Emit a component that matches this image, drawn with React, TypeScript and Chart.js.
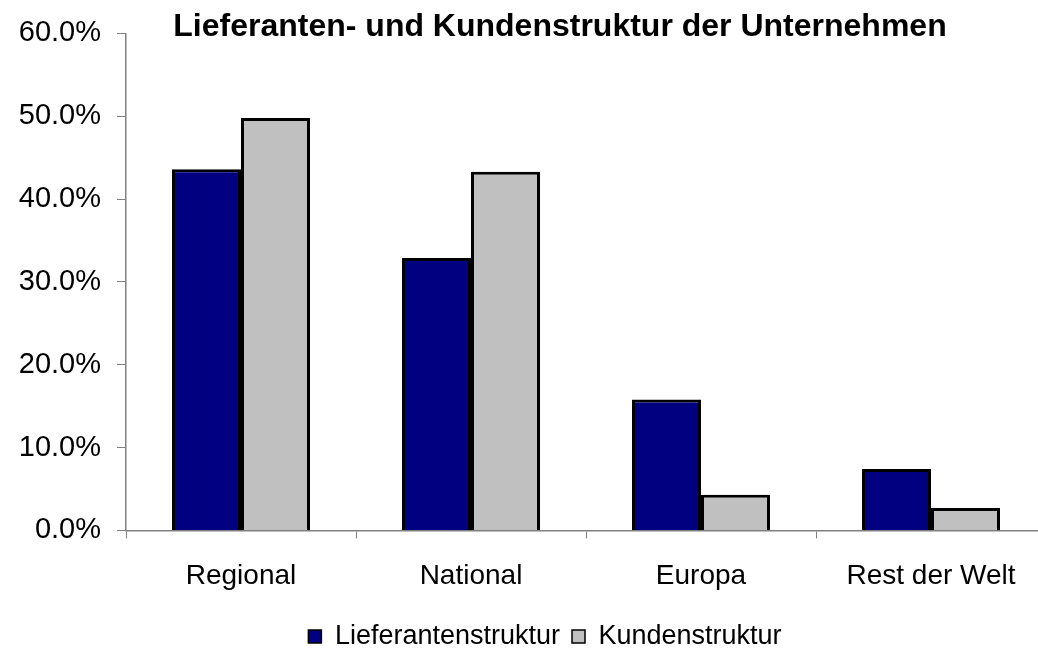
import React, { useEffect, useRef } from "react";
import { Chart, registerables } from "chart.js";

Chart.register(...registerables);

const categories = ["Regional", "National", "Europa", "Rest der Welt"];
const lieferanten = [43.6, 32.9, 15.8, 7.4];
const kunden = [49.8, 43.3, 4.3, 2.7];
const seriesNames = ["Lieferantenstruktur", "Kundenstruktur"];
const chartTitle = "Lieferanten- und Kundenstruktur der Unternehmen";

const FONT = "'Liberation Sans', Arial, sans-serif";

const titlePlugin = {
  id: "customTitle",
  afterDraw(chart: any) {
    const ctx = chart.ctx;
    ctx.save();
    ctx.font = `bold 32px ${FONT}`;
    ctx.fillStyle = "#000";
    ctx.textAlign = "center";
    ctx.textBaseline = "alphabetic";
    ctx.fillText(chartTitle, 560, 36);
    ctx.restore();
  },
};

// nudge the legend box to the position it has in the reference
const legendShift = {
  id: "legendShift",
  afterLayout(chart: any) {
    const lg = chart.legend;
    if (!lg) return;
    lg.left += 22;
    lg.right += 22;
    lg.top += 14;
    lg.bottom += 14;
  },
};

export default function App() {
  const ref = useRef<HTMLCanvasElement>(null);
  useEffect(() => {
    document.body.style.margin = "0";
    document.body.style.overflow = "hidden";
    const chart = new Chart(ref.current!, {
      type: "bar",
      data: {
        labels: categories,
        datasets: [
          {
            label: seriesNames[0],
            data: lieferanten,
            backgroundColor: "#000080",
            borderColor: "#000000",
            borderWidth: 3,
            categoryPercentage: 0.6,
            barPercentage: 1,
          },
          {
            label: seriesNames[1],
            data: kunden,
            backgroundColor: "#C0C0C0",
            borderColor: "#000000",
            borderWidth: 3,
            categoryPercentage: 0.6,
            barPercentage: 1,
          },
        ],
      },
      options: {
        responsive: false,
        animation: false,
        layout: { padding: { left: 0, right: 0, top: 18, bottom: 6 } },
        plugins: {
          title: { display: false },
          tooltip: { enabled: false },
          legend: {
            position: "bottom",
            labels: {
              font: { family: FONT, size: 27 },
              color: "#000",
              boxWidth: 13,
              boxHeight: 13,
              padding: 12,
              generateLabels(chart: any) {
                return chart.data.datasets.map((ds: any, i: number) => ({
                  text: ds.label,
                  fillStyle: ds.backgroundColor,
                  strokeStyle: "#000",
                  lineWidth: 1.5,
                  hidden: false,
                  datasetIndex: i,
                }));
              },
            },
          },
        },
        scales: {
          x: {
            afterFit(scale: any) {
              scale.height = scale.height - 17;
            },
            grid: {
              display: true,
              drawOnChartArea: false,
              drawTicks: true,
              tickLength: 8,
              color: "#808080",
              offset: true,
            },
            border: { display: true, color: "#808080", width: 1.5 },
            ticks: {
              font: { family: FONT, size: 28 },
              color: "#000",
              padding: 21,
              maxRotation: 0,
            },
          },
          y: {
            min: 0,
            max: 60,
            afterFit(scale: any) {
              scale.width = 126;
            },
            grid: {
              display: true,
              drawOnChartArea: false,
              drawTicks: true,
              tickLength: 9,
              color: "#808080",
            },
            border: { display: true, color: "#808080", width: 1.5 },
            ticks: {
              stepSize: 10,
              font: { family: FONT, size: 29 },
              color: "#000",
              padding: 16,
              callback: (v: any) => Number(v).toFixed(1) + "%",
            },
          },
        },
      },
      plugins: [titlePlugin, legendShift],
    });
    return () => chart.destroy();
  }, []);
  return (
    <div style={{ position: "absolute", left: 0, top: 0, width: 1038, height: 652, overflow: "hidden", background: "#fff" }}>
      <canvas ref={ref} width={1046} height={652} />
    </div>
  );
}
